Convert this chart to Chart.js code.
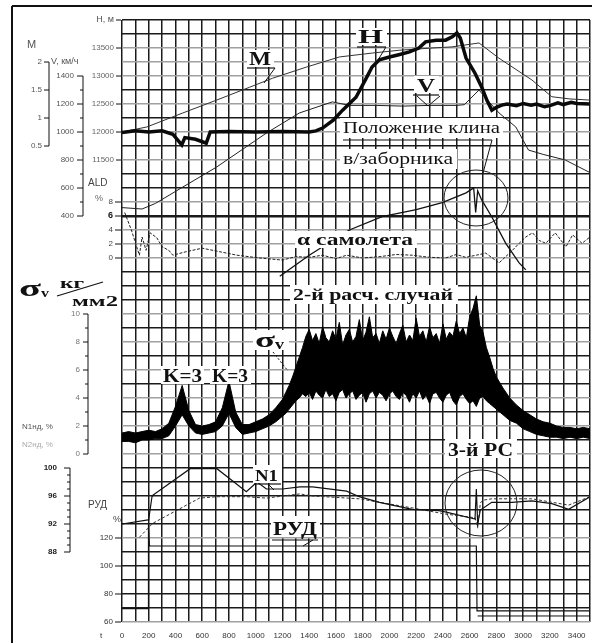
<!DOCTYPE html>
<html>
<head>
<meta charset="utf-8">
<script src="https://cdn.jsdelivr.net/npm/chart.js@4.4.0/dist/chart.umd.min.js"></script>
<style>
  body { margin: 0; background: #fff; }
  canvas { display: block; }
</style>
</head>
<body>
<canvas id="flight" width="592" height="643"></canvas>
<script>
// time axis, s
const timeTicks = [0, 200, 400, 600, 800, 1000, 1200, 1400, 1600, 1800, 2000, 2200, 2400, 2600, 2800, 3000, 3200, 3400];

// left scales tick labels
const mTicks = [2, 1.5, 1, 0.5];
const vTicks = [1400, 1200, 1000, 800, 600, 400];
const hTicks = [13500, 13000, 12500, 12000, 11500];
const aldTicks = [8, 6, 4, 2, 0];
const sigTicks = [10, 8, 6, 4, 2, 0];
const n1Ticks = [100, 96, 92, 88];
const rudTicks = [120, 100, 80, 60];

// H, m
const hTime = [0, 100, 200, 300, 380, 447, 470, 550, 630, 660, 800, 1000, 1200, 1400, 1450, 1500, 1580, 1650, 1750, 1820, 1870, 1925, 2000, 2070, 2150, 2220, 2270, 2350, 2420, 2470, 2505, 2530, 2573, 2640, 2692, 2730, 2766, 2800, 2840, 2880, 2950, 3000, 3060, 3100, 3160, 3200, 3260, 3300, 3360, 3400, 3500];
const hValues = [11990, 12020, 12000, 12020, 11960, 11770, 11900, 11870, 11800, 12000, 12010, 12000, 12010, 12000, 12020, 12070, 12210, 12390, 12620, 12930, 13160, 13290, 13340, 13380, 13430, 13500, 13610, 13640, 13640, 13700, 13770, 13680, 13320, 13050, 12790, 12560, 12390, 12440, 12480, 12500, 12470, 12510, 12480, 12500, 12450, 12470, 12520, 12490, 12530, 12510, 12500];

// M
const mTime = [0, 186, 455, 708, 955, 1126, 1380, 1626, 1872, 2073, 2320, 2468, 2670, 2818, 3065, 3214, 3350, 3500];
const mValues = [0.75, 0.84, 1.09, 1.32, 1.55, 1.71, 1.91, 2.09, 2.16, 2.21, 2.25, 2.27, 2.34, 2.07, 1.68, 1.38, 1.34, 1.32];

// V, km/h
const vTime = [0, 150, 250, 455, 708, 1081, 1327, 1573, 1700, 1900, 2100, 2300, 2500, 2560, 2670, 2740, 2820, 2945, 3040, 3150, 3315, 3500];
const vValues = [460, 450, 490, 607, 750, 993, 1136, 1215, 1190, 1190, 1185, 1190, 1190, 1195, 1300, 1220, 1136, 1036, 871, 840, 800, 710];

// intake wedge position (ALD scale)
const wedgeTime = [1180, 1400, 1700, 1945, 2200, 2395, 2573, 2630, 2645, 2660, 2690, 2765, 2870, 2970, 3020];
const wedgeValues = [-2.6, 0.4, 4.0, 5.9, 6.9, 7.9, 9.3, 10.0, 6.5, 9.6, 8.3, 5.9, 2.1, -0.7, -1.7];

// aircraft alpha (ALD scale)
const alphaTime = [20, 70, 130, 150, 180, 210, 260, 300, 350, 380, 480, 600, 730, 860, 1030, 1200, 1300, 1400, 1500, 1600, 1680, 1800, 1930, 2050, 2170, 2300, 2420, 2500, 2570, 2650, 2720, 2820, 2920, 2970, 3020, 3070, 3120, 3170, 3240, 3320, 3370, 3440, 3500];
const alphaValues = [6.5, 4.0, 0.4, 3.0, 1.1, 3.6, 2.9, 1.6, 1.1, 0.4, 0.9, 1.4, 0.9, 0.4, 0.0, -0.3, 0.2, 0.1, 0.4, -0.1, 0.4, 0.0, 0.2, 0.5, 0.4, 0.1, 0.0, 0.5, 0.1, 0.4, 0.7, -0.7, 1.1, 2.1, 3.0, 3.6, 2.5, 2.1, 3.6, 1.6, 3.3, 2.1, 3.0];

// sigma_v, kg/mm2 - band of the record (upper / lower edge)
const sigTime = [0, 50, 100, 150, 200, 250, 300, 350, 400, 450, 500, 550, 600, 650, 700, 750, 800, 850, 900, 950, 1000, 1050, 1100, 1150, 1200,
    1225, 1250, 1275, 1300, 1325, 1350, 1375, 1400, 1425, 1450, 1475, 1500, 1525, 1550, 1575, 1600, 1625, 1650, 1675, 1700, 1725, 1750, 1775, 1800, 1825, 1850, 1875, 1900, 1925, 1950, 1975, 2000,
    2025, 2050, 2075, 2100, 2125, 2150, 2175, 2200, 2225, 2250, 2275, 2300, 2325, 2350, 2375, 2400, 2425, 2450, 2475, 2500, 2525, 2550, 2575, 2600, 2625, 2650, 2675, 2700, 2725, 2750, 2775, 2800,
    2850, 2900, 2950, 3000, 3050, 3100, 3150, 3200, 3250, 3300, 3350, 3400, 3450, 3500];
const sigHigh = [1.5, 1.6, 1.5, 1.6, 1.7, 1.6, 1.8, 2.2, 3.4, 4.9, 3.1, 2.1, 2.0, 2.1, 2.3, 3.3, 5.2, 3.0, 2.1, 2.1, 2.3, 2.5, 2.8, 3.3, 3.9,
    4.4, 4.9, 5.5, 6.2, 6.9, 7.6, 8.4, 8.9, 8.1, 8.6, 7.9, 9.1, 8.3, 8.0, 8.8, 8.2, 9.4, 7.8, 8.5, 8.9, 8.0, 8.4, 9.6, 8.1, 8.7, 9.8, 8.3, 8.6, 7.9, 8.8, 8.2, 9.0,
    8.4, 7.9, 8.6, 9.2, 8.0, 8.5, 8.1, 9.7, 8.4, 8.8, 8.0, 9.1, 8.3, 8.6, 7.9, 9.3, 8.2, 8.7, 8.4, 9.5, 8.6, 9.0, 8.3, 9.8, 10.4, 11.3, 9.2, 8.7, 7.6, 6.9, 6.1, 5.5,
    4.7, 4.0, 3.5, 3.1, 2.8, 2.5, 2.3, 2.2, 2.0, 1.9, 1.9, 1.8, 1.9, 1.8];
const sigLow = [0.9, 0.9, 0.8, 1.0, 1.0, 1.1, 1.1, 1.3, 2.0, 2.8, 2.0, 1.5, 1.4, 1.5, 1.6, 2.0, 2.9, 1.9, 1.4, 1.5, 1.6, 1.8, 2.0, 2.3, 2.7,
    2.9, 3.2, 3.5, 3.8, 4.0, 4.3, 4.1, 4.4, 3.9, 4.5, 4.2, 4.0, 4.6, 4.1, 4.3, 3.8, 4.4, 4.6, 4.0, 4.3, 4.5, 3.9, 4.2, 4.4, 3.7, 4.3, 4.5, 4.0, 4.4, 4.2, 3.8, 4.3,
    4.5, 4.1, 3.9, 4.4, 4.2, 3.7, 4.3, 4.0, 4.5, 3.9, 4.2, 3.6, 4.3, 4.4, 4.0, 3.7, 4.2, 4.4, 3.8, 3.5, 4.1, 4.3, 3.9, 3.6, 3.8, 3.4, 4.0, 4.1, 3.8, 3.6, 3.4, 3.2,
    2.8, 2.4, 2.2, 1.8, 1.6, 1.4, 1.3, 1.2, 1.2, 1.1, 1.2, 1.1, 1.2, 1.1];

// N1, N2, %
const n1Time = [0, 195, 200, 225, 230, 510, 710, 930, 1010, 1080, 1200, 1330, 1425, 1680, 1775, 1925, 2170, 2370, 2425, 2640, 2650, 2660, 2680, 2765, 2915, 3065, 3215, 3340, 3500];
const n1Values = [92.0, 92.6, 92.7, 96.0, 96.1, 99.9, 99.9, 96.6, 98.0, 97.0, 97.0, 97.3, 97.3, 96.7, 95.9, 95.1, 94.1, 93.9, 93.7, 92.7, 97.0, 92.0, 94.0, 95.1, 95.1, 95.3, 94.9, 94.1, 95.9];
const n2Time = [130, 230, 580, 710, 930, 1080, 1330, 1425, 1775, 2170, 2425, 2640, 2660, 2680, 2700, 2765, 3065, 3340, 3500];
const n2Values = [90.1, 92.1, 95.7, 95.9, 95.9, 95.7, 96.3, 96.0, 95.6, 94.3, 93.4, 92.9, 91.5, 95.0, 95.4, 95.6, 95.6, 94.7, 95.9];

// RUD (throttle), %
const rudTime = [0, 195, 198, 205, 215, 1000, 2000, 2650, 2655, 3500];
const rudValues = [69.5, 69.5, 130, 114.5, 114.3, 114.3, 114.3, 114.3, 68, 68];
const rudLowTime = [2660, 3500];
const rudLowValues = [64.3, 64.3];

const GRAY_ROWS = [2, 3, 4, 6, 8, 10, 13, 15, 16, 17, 21, 23, 25, 27, 29, 31, 37, 43];
const SERIF = '"Liberation Serif", "DejaVu Serif", serif';
const SANS = '"Liberation Sans", "DejaVu Sans", sans-serif';

function pts(ts, vs) {
    return ts.map((t, i) => ({ x: t, y: vs[i] }));
}

function lineSet(label, ts, vs, axis, extra) {
    return Object.assign({
        label: label,
        data: pts(ts, vs),
        yAxisID: axis,
        borderColor: '#111',
        borderWidth: 1,
        pointRadius: 0,
        tension: 0,
        fill: false
    }, extra || {});
}

// drawing helpers
function seg(c, x1, y1, x2, y2, w, dash) {
    c.save();
    c.strokeStyle = '#111';
    c.lineWidth = w || 1;
    c.setLineDash(dash || []);
    c.beginPath();
    c.moveTo(x1, y1);
    c.lineTo(x2, y2);
    c.stroke();
    c.restore();
}

function text(c, str, x, y, font, color, align) {
    c.font = font;
    c.fillStyle = color || '#111';
    c.textAlign = align || 'left';
    c.textBaseline = 'middle';
    c.fillText(str, x, y);
}

function fitText(c, str, x, base, w, font, box) {
    if (box) {
        c.fillStyle = '#fff';
        c.fillRect(box[0], box[1], box[2], box[3]);
    }
    c.font = font;
    const m = c.measureText(str).width;
    c.save();
    c.translate(x, base);
    c.scale(w / m, 1);
    c.fillStyle = '#111';
    c.textAlign = 'left';
    c.textBaseline = 'alphabetic';
    c.fillText(str, 0, 0);
    c.restore();
}

function ellipse(c, cx, cy, rx, ry) {
    c.save();
    c.strokeStyle = '#222';
    c.lineWidth = 1;
    c.beginPath();
    c.ellipse(cx, cy, rx, ry, 0, 0, Math.PI * 2);
    c.stroke();
    c.restore();
}

function leftTicks(c, scale, values, x1, x2, labelX, font, color) {
    values.forEach(v => {
        const y = scale.getPixelForValue(v);
        seg(c, x1, y, x2, y, 1);
        text(c, String(v), labelX, y, font, color, 'right');
    });
}

const decor = {
    id: 'decor',
    beforeDraw(chart) {
        const c = chart.ctx;
        c.save();
        c.fillStyle = '#fff';
        c.fillRect(0, 0, chart.width, chart.height);
        c.restore();
    },
    afterDraw(chart) {
        const c = chart.ctx;
        const s = chart.scales;
        const small = '8px ' + SANS;

        // time labels under the grid
        timeTicks.forEach(v => {
            text(c, String(v), s.x.getPixelForValue(v), 636, small, '#333', 'center');
        });
        text(c, 't', 100, 636, small, '#333');

        // M axis
        text(c, 'M', 27, 45, '11px ' + SANS, '#555');
        seg(c, 49, s.yM.getPixelForValue(2), 49, s.yM.getPixelForValue(0.5), 1);
        leftTicks(c, s.yM, mTicks, 44, 49, 42, small, '#555');

        // V axis
        text(c, 'V, км/ч', 51, 62, '9px ' + SANS, '#555');
        seg(c, 83, s.yV.getPixelForValue(1400), 83, s.yV.getPixelForValue(400), 1);
        [1300, 1100, 900, 700, 500].forEach(v => {
            const y = s.yV.getPixelForValue(v);
            seg(c, 80, y, 83, y, 1);
        });
        leftTicks(c, s.yV, vTicks, 77, 83, 74, small, '#555');

        // H axis
        text(c, 'H, м', 114, 20, '9px ' + SANS, '#555', 'right');
        seg(c, 116, 20, 121, 20, 1);
        leftTicks(c, s.yH, hTicks, 116, 121, 114, small, '#666');

        // ALD axis
        text(c, 'ALD', 88, 183, '10px ' + SANS, '#444');
        text(c, '%', 95, 199, '9px ' + SANS, '#666');
        aldTicks.forEach(v => {
            const y = s.yAld.getPixelForValue(v);
            seg(c, 115, y, 121, y, 1);
            const f = v === 6 ? 'bold 9px ' + SANS : small;
            text(c, String(v), 113, y, f, v === 6 ? '#111' : '#444', 'right');
        });

        // sigma axis
        fitText(c, 'σ', 19, 296, 22, 'bold 24px ' + SERIF);
        fitText(c, 'v', 41, 297, 8, 'bold 13px ' + SERIF);
        fitText(c, 'кг', 60, 288, 24, 'bold 15px ' + SERIF);
        fitText(c, 'мм2', 72, 306, 46, 'bold 15px ' + SERIF);
        seg(c, 57, 296, 103, 282, 1.2);
        seg(c, 88, s.ySig.getPixelForValue(10), 88, s.ySig.getPixelForValue(0), 1);
        [9, 7, 5, 3, 1].forEach(v => {
            const y = s.ySig.getPixelForValue(v);
            seg(c, 85, y, 88, y, 1);
        });
        leftTicks(c, s.ySig, sigTicks, 83, 88, 80, small, '#777');
        text(c, 'N1нд, %', 22, 427, '8px ' + SANS, '#555');
        text(c, 'N2нд, %', 22, 445, '8px ' + SANS, '#aaa');

        // N1 axis
        seg(c, 70, s.yN.getPixelForValue(100), 70, s.yN.getPixelForValue(88), 1);
        [99, 98, 97, 95, 94, 93, 91, 90, 89].forEach(v => {
            const y = s.yN.getPixelForValue(v);
            seg(c, 67, y, 70, y, 1);
        });
        leftTicks(c, s.yN, n1Ticks, 64, 70, 57, 'bold 8px ' + SANS, '#222');

        // RUD axis
        text(c, 'РУД', 88, 505, '10px ' + SANS, '#444');
        text(c, '%', 113, 520, '9px ' + SANS, '#444');
        leftTicks(c, s.yRud, rudTicks, 115, 121, 113, small, '#333');

        // annotations on the plot
        const bold = sz => 'bold ' + sz + 'px ' + SERIF;
        fitText(c, 'H', 358, 43, 25, bold(19), [356, 28, 31, 17]);
        seg(c, 357, 47, 386, 47, 1.2);
        seg(c, 386, 47, 378, 60, 1);

        fitText(c, 'M', 249, 65, 22, bold(18), [247, 50, 27, 17]);
        seg(c, 247, 68, 275, 68, 1.2);
        seg(c, 275, 68, 264, 83, 1);

        fitText(c, 'V', 417, 92, 18, bold(18), [414, 76, 25, 17]);
        seg(c, 413, 95, 439, 95, 1.2);
        seg(c, 417, 96, 428, 106, 1);
        seg(c, 428, 106, 440, 96, 1);

        fitText(c, 'Положение клина', 343, 133, 157, '17px ' + SERIF, [340, 118, 163, 20]);
        seg(c, 343, 140, 492, 140, 1.2);
        fitText(c, 'в/заборника', 343, 164, 110, '17px ' + SERIF, [340, 149, 117, 20]);
        seg(c, 492, 140, 483, 173, 1);

        fitText(c, 'α самолета', 297, 245, 116, bold(17), [295, 231, 122, 17]);
        fitText(c, '2-й расч. случай', 293, 300, 160, bold(17), [290, 285, 168, 19]);

        fitText(c, 'σ', 255, 347, 20, bold(22), [253, 330, 36, 20]);
        fitText(c, 'v', 275, 349, 9, bold(14));
        seg(c, 273, 352, 288, 371, 1, [2, 2]);

        fitText(c, 'K=3', 163, 382, 39, bold(18), [161, 366, 43, 18]);
        fitText(c, 'K=3', 212, 382, 36, bold(18), [210, 366, 41, 18]);

        fitText(c, '3-й РС', 448, 456, 65, bold(18), [445, 439, 72, 19]);

        fitText(c, 'N1', 255, 481, 23, bold(17), [253, 465, 29, 18]);
        seg(c, 254, 484, 281, 484, 1.2);
        seg(c, 268, 484, 274, 490, 1);

        fitText(c, 'РУД', 273, 535, 44, bold(18), [271, 516, 49, 21]);
        seg(c, 272, 540, 318, 540, 1.2);
        seg(c, 313, 540, 303, 546, 1);

        ellipse(c, 476, 198, 32, 28);
        ellipse(c, 481, 503, 36, 33);

        // frame of the picture
        seg(c, 12, 6, 592, 6, 2);
        seg(c, 12, 6, 12, 643, 2);
    }
};

new Chart(document.getElementById('flight'), {
    type: 'line',
    data: {
        datasets: [
            lineSet('H', hTime, hValues, 'yH', { borderWidth: 3.5, borderColor: '#0a0a0a' }),
            lineSet('M', mTime, mValues, 'yM', { borderColor: '#333' }),
            lineSet('V', vTime, vValues, 'yV', { borderColor: '#222' }),
            lineSet('Положение клина в/заборника', wedgeTime, wedgeValues, 'yAld', { borderWidth: 1.3 }),
            lineSet('α самолета', alphaTime, alphaValues, 'yAld', { borderColor: '#222', borderDash: [3, 1.5] }),
            lineSet('σv max', sigTime, sigHigh, 'ySig', { borderColor: '#000' }),
            lineSet('σv min', sigTime, sigLow, 'ySig', { borderColor: '#000', fill: '-1', backgroundColor: '#000' }),
            lineSet('N1', n1Time, n1Values, 'yN', { borderWidth: 1.2 }),
            lineSet('N2', n2Time, n2Values, 'yN', { borderColor: '#333', borderDash: [3, 2] }),
            lineSet('РУД', rudTime, rudValues, 'yRud', { borderWidth: 1.2 }),
            lineSet('РУД 2', rudLowTime, rudLowValues, 'yRud')
        ]
    },
    options: {
        responsive: false,
        animation: false,
        devicePixelRatio: 1,
        layout: { padding: { left: 122, right: 2, top: 20, bottom: 21 } },
        plugins: {
            legend: { display: false },
            tooltip: { enabled: false }
        },
        scales: {
            x: {
                type: 'linear',
                min: 0,
                max: 3500,
                ticks: { stepSize: 100, autoSkip: false, display: false },
                grid: { color: '#1a1a1a', lineWidth: 1.5, drawTicks: false },
                border: { display: false }
            },
            rows: {
                type: 'linear',
                position: 'left',
                reverse: true,
                min: 0,
                max: 43,
                ticks: { stepSize: 1, display: false },
                grid: {
                    drawTicks: false,
                    color: ctx => GRAY_ROWS.includes(ctx.tick.value) ? '#a0a0a0' : '#1a1a1a',
                    lineWidth: ctx => ctx.tick.value === 14 ? 2.4 : 1.4
                },
                border: { display: false }
            },
            yH: { display: false, min: 3250, max: 14000 },
            yM: { display: false, min: -8, max: 2.75 },
            yV: { display: false, min: -2500, max: 1800 },
            yAld: { display: false, min: -52, max: 34 },
            ySig: { display: false, min: -12, max: 31 },
            yN: { display: false, min: 78, max: 164 },
            yRud: { display: false, min: 60, max: 490 }
        }
    },
    plugins: [decor]
});
</script>
</body>
</html>
